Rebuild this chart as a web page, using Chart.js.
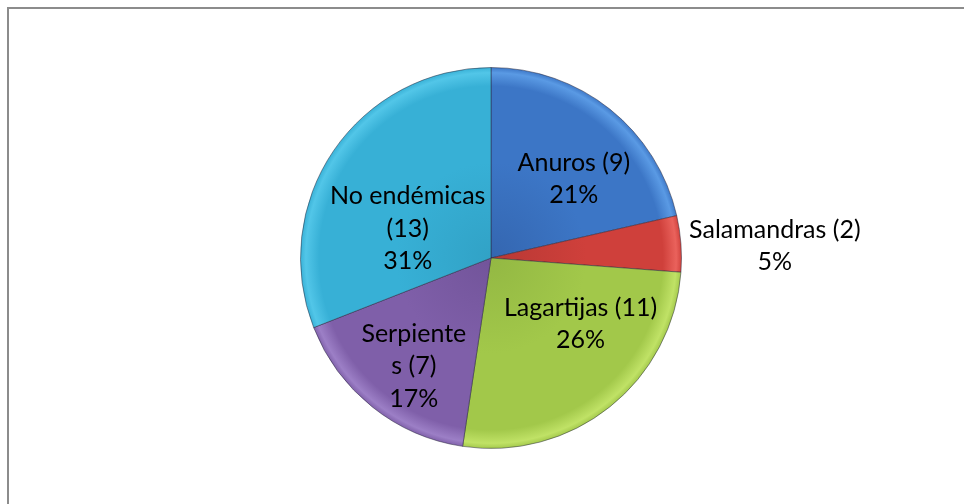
<!DOCTYPE html>
<html><head><meta charset="utf-8">
<script src="https://cdn.jsdelivr.net/npm/chart.js@4/dist/chart.umd.min.js"></script>
<style>
html,body{margin:0;padding:0;background:#fff;}
#wrap{position:absolute;left:0;top:0;width:964px;height:504px;}
#frame{position:absolute;left:7px;top:7px;width:1000px;height:1000px;border-left:2px solid #8c8c8c;border-top:2px solid #8c8c8c;box-sizing:border-box;}
canvas{position:absolute;left:0;top:0;}
</style></head>
<body>
<div id="wrap"><div id="frame"></div><canvas id="c" width="964" height="504"></canvas></div>
<script>
const categories = ["Anuros", "Salamandras", "Lagartijas", "Serpientes", "No endémicas"];
const counts = [9, 2, 11, 7, 13];
const labelLines = [["Anuros (9)"], ["Salamandras (2)"], ["Lagartijas (11)"], ["Serpiente", "s (7)"], ["No endémicas", "(13)"]];
const baseColors = ["#3c76c6", "#cf403b", "#a2c84a", "#7f5fa9", "#37b0d6"];
const darkColors = ["#3466b0", "#b83834", "#93b843", "#72549a", "#31a2c6"];
const lightColors = ["#5a9ae4", "#ea625c", "#c0e266", "#9c7fc6", "#52c6e8"];
// label anchors in radius units (relative to pie centre)
const labelPos = [[0.435,-0.416],[1.49,-0.063],[0.47,0.347],[-0.405,0.568],[-0.437,-0.153]];

const total = counts.reduce((a,b)=>a+b,0);

function grad(ctx, i){
  const chart = ctx.chart;
  const a = chart.chartArea;
  if(!a) return baseColors[i];
  const cx=(a.left+a.right)/2, cy=(a.top+a.bottom)/2, r=Math.min(a.right-a.left,a.bottom-a.top)/2;
  const g = chart.ctx.createRadialGradient(cx,cy,0,cx,cy,r);
  g.addColorStop(0, darkColors[i]);
  g.addColorStop(0.5, baseColors[i]);
  g.addColorStop(0.9, baseColors[i]);
  g.addColorStop(0.97, lightColors[i]);
  g.addColorStop(1, baseColors[i]);
  return g;
}

const labelPlugin = {
  id:'pieLabels',
  afterDatasetsDraw(chart){
    const meta = chart.getDatasetMeta(0);
    const c = chart.ctx;
    c.save();
    c.font = '25px Lato, "Open Sans", sans-serif';
    c.fillStyle = '#000';
    c.textAlign='center';
    c.textBaseline='middle';
    const lh = 32.5;
    meta.data.forEach((arc,i)=>{
      const r = arc.outerRadius;
      const x = arc.x + labelPos[i][0]*r;
      const y = arc.y + labelPos[i][1]*r;
      const lines = labelLines[i].concat([Math.round(counts[i]/total*100)+'%']);
      const y0 = y - (lines.length-1)*lh/2;
      lines.forEach((t,k)=>c.fillText(t,x,y0+k*lh));
    });
    c.restore();
  }
};

new Chart(document.getElementById('c'),{
  type:'pie',
  data:{labels:categories,datasets:[{data:counts,
    backgroundColor:(ctx)=>grad(ctx,ctx.dataIndex),
    borderColor:'rgba(40,40,60,0.5)',borderWidth:1}]},
  options:{
    responsive:false,animation:false,
    layout:{padding:{top:67,bottom:55,left:300,right:282}},
    plugins:{legend:{display:false},tooltip:{enabled:false}}
  },
  plugins:[labelPlugin]
});
</script>
</body></html>
